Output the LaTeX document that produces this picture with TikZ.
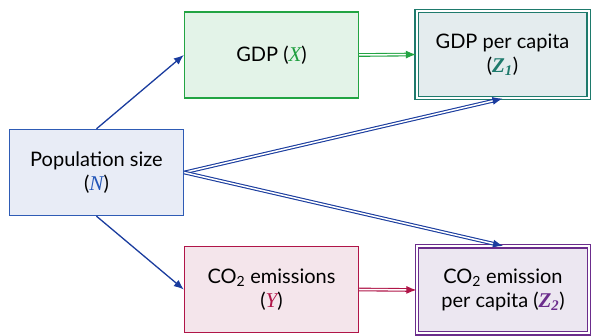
\documentclass[tikz,border=0pt]{standalone}
\usepackage{fontspec}
\setmainfont{Lato}
\newfontfamily\varfont{Liberation Serif}
\usetikzlibrary{arrows.meta}
\definecolor{popfill}{HTML}{E8ECF6}
\definecolor{popdraw}{HTML}{2E5BB5}
\definecolor{nblue}{HTML}{2255B8}
\definecolor{gdpfill}{HTML}{E3F3E8}
\definecolor{gdpdraw}{HTML}{22A443}
\definecolor{xgreen}{HTML}{1E9E3E}
\definecolor{zafill}{HTML}{E4ECEE}
\definecolor{zadraw}{HTML}{1E7A6C}
\definecolor{co2fill}{HTML}{F4E5EB}
\definecolor{co2draw}{HTML}{B01548}
\definecolor{ycrim}{HTML}{B01548}
\definecolor{zbfill}{HTML}{ECE7F1}
\definecolor{zbdraw}{HTML}{6B2C8C}
\definecolor{arrblue}{HTML}{1A3C9E}
\newcommand{\mv}[2]{{\color{#2}\varfont\itshape\fontsize{21}{24}\selectfont #1}}
\newcommand{\mz}[3]{{\color{#3}\varfont\itshape\bfseries\fontsize{21}{24}\selectfont #1\textsubscript{#2}}}
\begin{document}
\begin{tikzpicture}[x=1pt,y=-1pt,
  box/.style={draw, line width=1.4pt, minimum width=174pt, minimum height=86pt, align=center, inner sep=2pt, font=\fontsize{20}{24}\selectfont},
  dbox/.style={box, double=white, double distance=2pt, line width=1.2pt, minimum width=172pt, minimum height=87pt},
  sarr/.style={draw=arrblue, line width=1.3pt, -{Latex[length=10pt,width=8pt]}},
  darr/.style={line width=1.1pt, double=white, double distance=1.5pt, -{Latex[length=10pt,width=8pt]}}
]
\useasboundingbox (0,0) rectangle (592,336);
\node[box, draw=popdraw, fill=popfill] (pop) at (96.5,172.5) {Population size\\(\mv{N}{nblue})};
\node[box, draw=gdpdraw, fill=gdpfill] (gdp) at (271.5,55) {GDP (\mv{X}{xgreen})};
\node[dbox, draw=zadraw, fill=zafill] (za) at (502.5,54.5) {GDP per capita\\(\mz{Z}{1}{zadraw})};
\node[box, draw=co2draw, fill=co2fill] (co2) at (271.5,289.5) {CO\textsubscript{2} emissions\\(\mv{Y}{ycrim})};
\node[dbox, draw=zbdraw, fill=zbfill] (zb) at (503,290) {CO\textsubscript{2} emission\\per capita (\mz{Z}{2}{zbdraw})};
\draw[sarr] (pop.north) -- (gdp.west);
\draw[sarr] (pop.south) -- (co2.west);
\draw[darr, draw=arrblue] (pop.east) -- (za.south);
\draw[darr, draw=arrblue] (pop.east) -- (zb.north);
\draw[darr, draw=gdpdraw] (gdp.east) -- (za.west);
\draw[darr, draw=co2draw] (co2.east) -- (zb.west);
\end{tikzpicture}
\end{document}
